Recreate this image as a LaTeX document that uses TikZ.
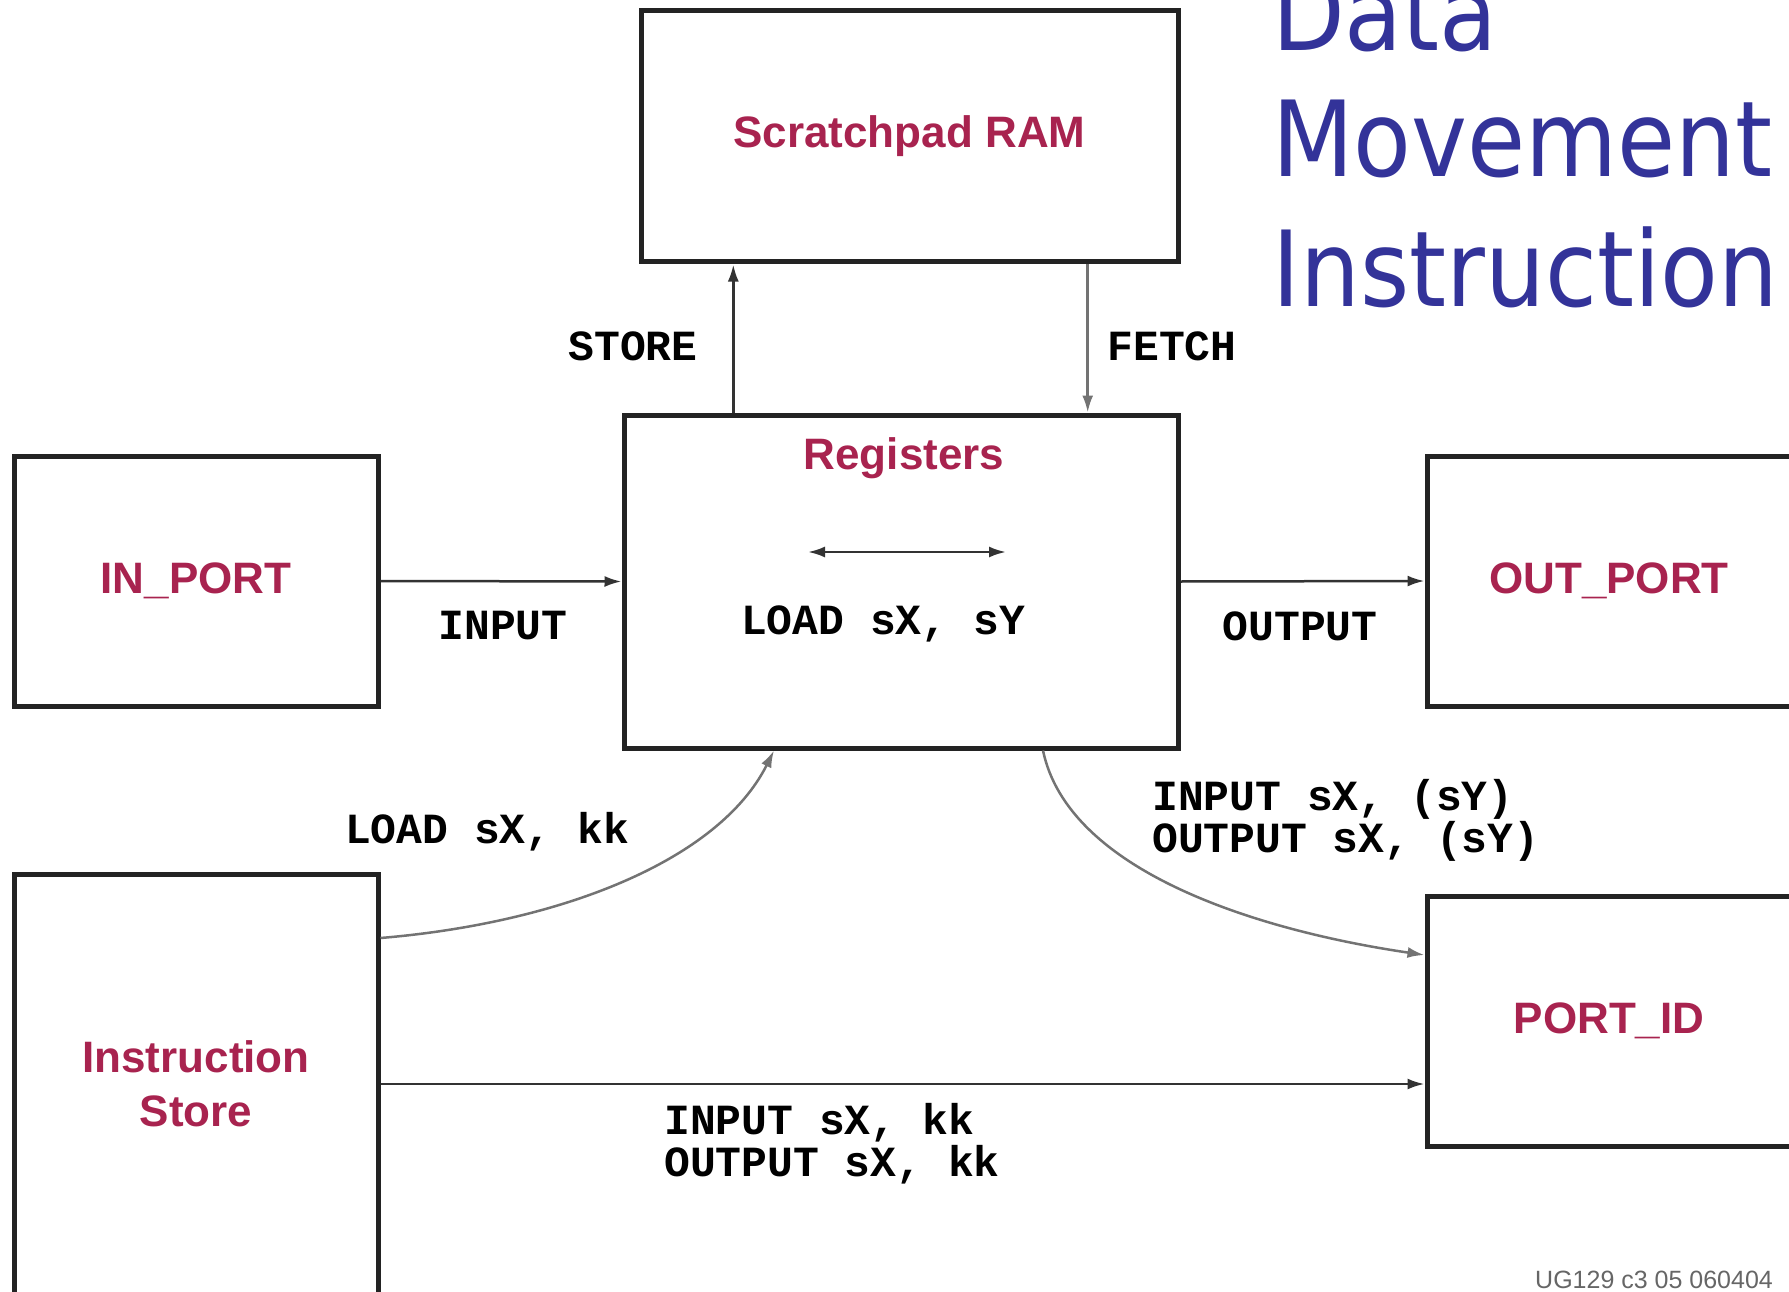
\documentclass[tikz,border=0pt]{standalone}
\usepackage{fontspec}
\setmainfont{Liberation Sans}
\newfontfamily\codefont{Liberation Mono}
\newfontfamily\titlefont[FakeStretch=0.9]{DejaVu Sans}
\usetikzlibrary{arrows.meta,calc}
\definecolor{unitred}{HTML}{A8234F}
\definecolor{titleblue}{HTML}{333399}
\definecolor{boxline}{HTML}{232323}

\begin{document}
\begin{tikzpicture}[x=1pt, y=-1pt,
        unit/.style={draw=boxline, line width=5pt, fill=white, text=unitred, align=center,
            font=\fontsize{44}{54}\selectfont\bfseries},
        lbl/.style={font=\codefont\bfseries\fontsize{43}{42}\selectfont, inner sep=0pt, align=left},
        wire/.style={draw=black!80, line width=2.5pt},
        bent/.style={draw=black!55, line width=2.5pt},
        >={Latex[length=17pt,width=11pt]}
    ]
        \useasboundingbox (0,0) rectangle (1789,1292);

        % Units
        \node[unit, minimum width=537, minimum height=251] (ram) at (909.5,136.5) {Scratchpad RAM};
        \node[unit, minimum width=554, minimum height=333] (reg) at (901,581.5) {};
        \node[unit, minimum width=364, minimum height=250] (inport) at (196,581) {IN\_PORT};
        \node[unit, minimum width=364, minimum height=250] (outport) at (1609,581) {OUT\_PORT};
        \node[unit, minimum width=364, minimum height=250] (portid) at (1609,1021) {PORT\_ID};
        \node[unit, minimum width=364, minimum height=420] (istore) at (196,1084) {Instruction\\Store};

        % Inside the registers
        \node[text=unitred, font=\fontsize{44}{54}\selectfont\bfseries] (regname) at (904,458) {Registers};
        \node[lbl] (ldxy) at (883,624) {LOAD sX, sY};
        \coordinate (dl) at (808,552);
        \coordinate (dr) at (1006,552);
        \draw[wire, <->] (dl) -- (dr);

        % Scratchpad connections
        \coordinate (st) at ($(reg.north west)!0.2!(reg.north east)$);
        \coordinate (ft) at ($(reg.north west)!0.834!(reg.north east)$);
        \draw[wire, ->] (st) -- (st |- ram.south);
        \draw[bent, ->] (ft |- ram.south) -- (ft);
        \node[lbl] (store) at (633,346) {STORE};
        \node[lbl] (fetch) at (1172,346) {FETCH};

        % Port connections
        \draw[wire, ->] (inport.east) -- (reg.west);
        \draw[wire, ->] (reg.east) -- (outport.west);
        \node[lbl] (input) at (503,626) {INPUT};
        \node[lbl] (output) at (1300,626) {OUTPUT};

        % Instruction store and port id
        \draw[bent, ->] ([yshift=146pt]istore.east) .. controls +(180,-15) and +(-55,110) .. ([xshift=-127pt]reg.south);
        \draw[bent, ->] ([xshift=142pt]reg.south) .. controls +(25,120) and +(-170,-25) .. ([yshift=66pt]portid.west);
        \draw[wire, ->] (istore.east) -- (istore.east -| portid.west);
        \node[lbl] (ldkk) at (487,832) {LOAD sX, kk};
        \node[lbl, anchor=west] (ioxy) at (1152,820) {INPUT sX, (sY)\\OUTPUT sX, (sY)};
        \node[lbl, anchor=west] (iokk) at (664,1144) {INPUT sX, kk\\OUTPUT sX, kk};

        % Title
        \node[titleblue, font=\titlefont\fontsize{105}{126}\selectfont, anchor=base west, inner sep=0pt] (t1) at (1272,51) {Data};
        \node[titleblue, font=\titlefont\fontsize{105}{126}\selectfont, anchor=base west, inner sep=0pt] (t2) at (1272,177) {Movement};
        \node[titleblue, font=\titlefont\fontsize{105}{126}\selectfont, anchor=base west, inner sep=0pt] (t3) at (1272,306) {Instruction};

        \node[text=black!60, font=\fontsize{25}{25}\selectfont, anchor=west, inner sep=0pt] (ug) at (1535,1280) {UG129 c3 05 060404};
    \end{tikzpicture}
\end{document}
